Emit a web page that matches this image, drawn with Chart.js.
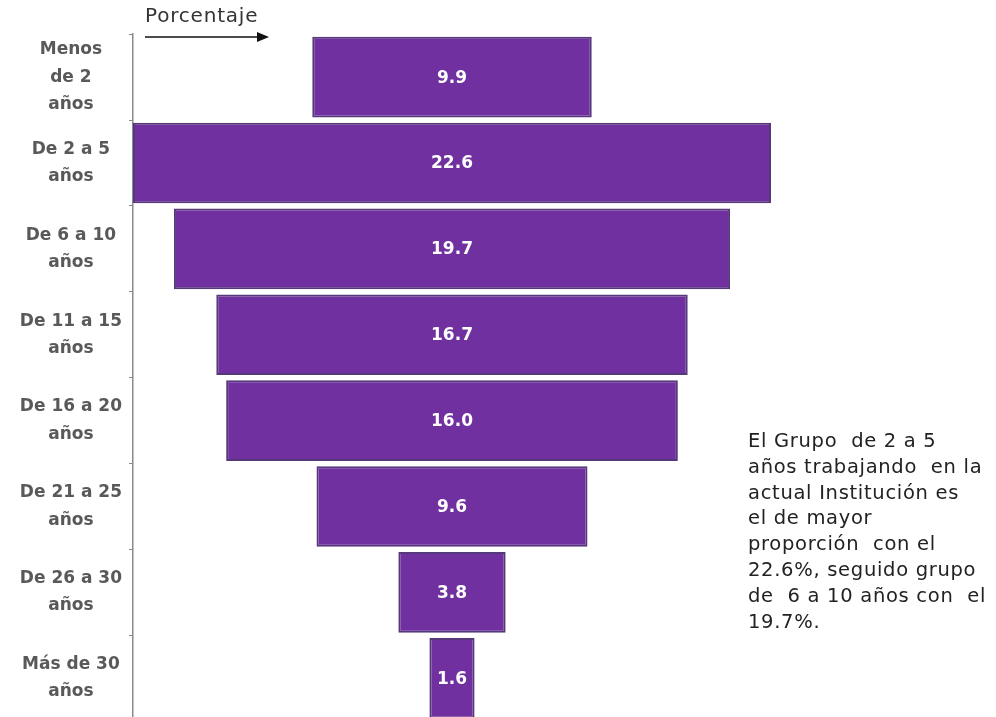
<!DOCTYPE html>
<html>
<head>
<meta charset="utf-8">
<script src="https://cdn.jsdelivr.net/npm/chart.js@4.4.1/dist/chart.umd.min.js"></script>
<style>
  html, body { margin: 0; padding: 0; background: #fff; overflow: hidden; }
  #wrap { width: 996px; height: 769px; position: relative; }
</style>
</head>
<body>
<div id="wrap"><canvas id="funnel-chart"></canvas></div>
<script>
// Antigüedad en la institución (porcentaje)
const grupos = [
  ["Menos", "de 2", "años"],
  ["De 2 a 5", "años"],
  ["De 6 a 10", "años"],
  ["De 11 a 15", "años"],
  ["De 16 a 20", "años"],
  ["De 21 a 25", "años"],
  ["De 26 a 30", "años"],
  ["Más de 30", "años"]
];
const porcentaje = [9.9, 22.6, 19.7, 16.7, 16.0, 9.6, 3.8, 1.6];
const nota = [
  "El Grupo  de 2 a 5",
  "años trabajando  en la",
  "actual Institución es",
  "el de mayor",
  "proporción  con el",
  "22.6%, seguido grupo",
  "de  6 a 10 años con  el",
  "19.7%."
];

const purple = '#7030A0';

// labels inside the bars + arrow title + side note
const extras = {
  id: 'extras',
  afterDatasetsDraw(chart) {
    const ctx = chart.ctx;
    const meta = chart.getDatasetMeta(0);
    ctx.save();
    ctx.fillStyle = '#ffffff';
    ctx.font = 'bold 17px "DejaVu Sans"';
    ctx.textAlign = 'center';
    ctx.textBaseline = 'middle';
    meta.data.forEach((bar, i) => {
      const c = bar.getCenterPoint();
      ctx.fillText(porcentaje[i].toFixed(1), c.x, c.y + 1);
    });
    ctx.restore();
  },
  afterDraw(chart) {
    const ctx = chart.ctx;
    ctx.save();
    // Porcentaje with arrow
    ctx.fillStyle = '#333';
    ctx.font = '20px "DejaVu Sans"';
    ctx.letterSpacing = '0.8px';
    ctx.textAlign = 'left';
    ctx.textBaseline = 'middle';
    ctx.fillText('Porcentaje', 145, 17);
    ctx.strokeStyle = '#111';
    ctx.lineWidth = 1.5;
    ctx.beginPath();
    ctx.moveTo(145, 37);
    ctx.lineTo(260, 37);
    ctx.stroke();
    ctx.fillStyle = '#111';
    ctx.beginPath();
    ctx.moveTo(269, 37);
    ctx.lineTo(257, 32);
    ctx.lineTo(257, 42);
    ctx.closePath();
    ctx.fill();
    // side note
    ctx.fillStyle = '#222';
    ctx.font = '19.5px "DejaVu Sans"';
    ctx.letterSpacing = '0.7px';
    nota.forEach((line, i) => {
      ctx.fillText(line, 748, 442 + i * 25.8);
    });
    ctx.restore();
  }
};

const ctxFunnel = document.getElementById('funnel-chart').getContext('2d');
const funnelChart = new Chart(ctxFunnel, {
  type: 'bar',
  data: {
    labels: grupos,
    datasets: [{
      label: 'Porcentaje',
      data: porcentaje.map(v => [-v / 2, v / 2]),
      backgroundColor: purple,
      borderColor: '#55397a',
      borderWidth: 2,
      borderSkipped: false,
      barPercentage: 0.94,
      categoryPercentage: 1
    }]
  },
  options: {
    indexAxis: 'y',
    responsive: true,
    maintainAspectRatio: false,
    animation: false,
    layout: {
      padding: { top: 30, right: 225, bottom: 0, left: 0 }
    },
    plugins: {
      legend: { display: false },
      tooltip: { enabled: false }
    },
    scales: {
      x: {
        display: false,
        min: -11.3,
        max: 11.3
      },
      y: {
        afterFit(scale) { scale.width = 133; },
        border: { display: true, color: '#8a8a8a', width: 1.5 },
        grid: {
          display: true,
          offset: true,
          drawOnChartArea: false,
          drawTicks: true,
          tickLength: 4,
          color: '#8a8a8a'
        },
        ticks: {
          crossAlign: 'center',
          color: '#595959',
          padding: 7,
          font: { family: 'DejaVu Sans', weight: 'bold', size: 17, lineHeight: 1.6 }
        }
      }
    }
  },
  plugins: [extras]
});
</script>
</body>
</html>
